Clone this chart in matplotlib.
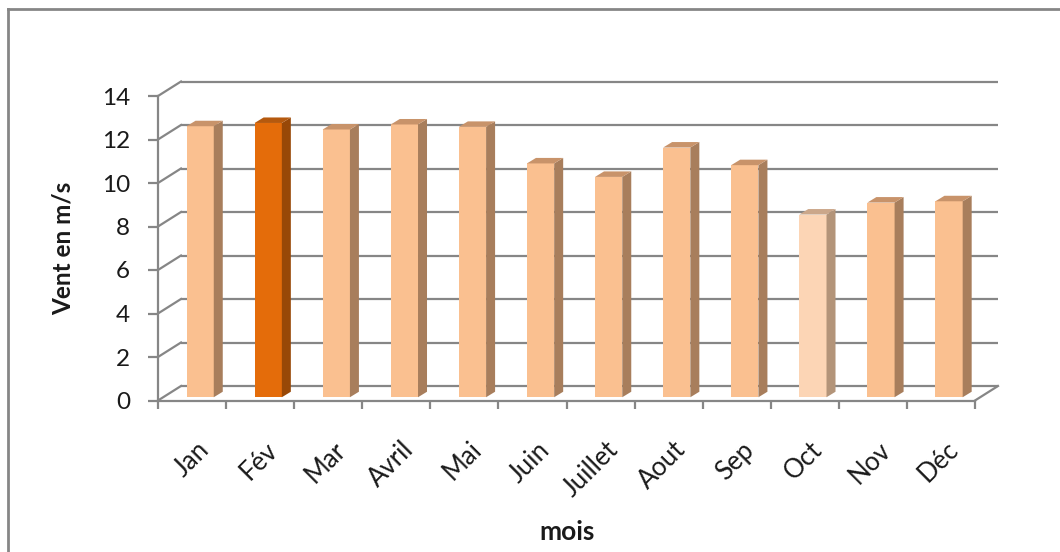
import matplotlib
matplotlib.use('Agg')
import matplotlib.pyplot as plt
from matplotlib.patches import Polygon
from matplotlib.lines import Line2D

plt.rcParams['font.family'] = ['Lato', 'DejaVu Sans']

# data
months = ['Jan', 'Fév', 'Mar', 'Avril', 'Mai', 'Juin', 'Juillet', 'Aout',
          'Sep', 'Oct', 'Nov', 'Déc']
wind = [12.46, 12.61, 12.31, 12.54, 12.43, 10.75, 10.13, 11.48, 10.67, 8.40, 8.95, 9.01]
y_ticks = [0, 2, 4, 6, 8, 10, 12, 14]

# colours (front, side, top)
light = ('#FAC090', '#A87E5C', '#C8936A')
dark = ('#E46C0A', '#984807', '#B5590E')
pale = ('#FCD5B5', '#B39479', '#CBA78A')
styles = [light] * 12
styles[1] = dark
styles[9] = pale

grid_col = '#868686'
txt_col = '#1a1a1a'

W, H = 1060, 552
fig = plt.figure(figsize=(W / 100, H / 100), dpi=100)
ax = fig.add_axes([158 / W, (H - 400.5) / H, (975 - 158) / W, (400.5 - 96) / H])
ax.set_xlim(0, 12)
ax.set_ylim(0, 14)

# pseudo 3d offsets (data units)
DX = 23 / 68.1
DY = 14.5 / 21.75
bdx = 9 / 68.1
bdy = 5.5 / 21.75
base = 0.15

# back wall grid + left wall diagonals
for v in y_ticks:
    ax.plot([DX, 12 + DX], [v + DY, v + DY], color=grid_col, lw=1.6, zorder=1,
            clip_on=False, solid_capstyle='butt')
    ax.plot([0, DX], [v, v + DY], color=grid_col, lw=1.6, zorder=1, clip_on=False)
ax.plot([12, 12 + DX], [0, DY], color=grid_col, lw=1.6, zorder=1, clip_on=False)

# bars
n = len(wind)
xs = [i + 0.419 for i in range(n)]
bw = 0.40
ax.bar(xs, wind, width=bw, bottom=base, align='edge',
       color=[s[0] for s in styles], zorder=3, clip_on=False)
for x0, v, s in zip(xs, wind, styles):
    x1 = x0 + bw
    top = base + v
    side = Polygon([(x1, base), (x1 + bdx, base + bdy), (x1 + bdx, top + bdy), (x1, top)],
                   closed=True, facecolor=s[1], edgecolor='none', zorder=3, clip_on=False)
    lid = Polygon([(x0, top), (x1, top), (x1 + bdx, top + bdy), (x0 + bdx, top + bdy)],
                  closed=True, facecolor=s[2], edgecolor='none', zorder=3, clip_on=False)
    ax.add_patch(side)
    ax.add_patch(lid)

# axes styling
for sp in ['top', 'right']:
    ax.spines[sp].set_visible(False)
for sp in ['left', 'bottom']:
    ax.spines[sp].set_color(grid_col)
    ax.spines[sp].set_linewidth(1.6)
ax.set_yticks(y_ticks)
ax.tick_params(axis='y', direction='out', length=7, width=1.6, color=grid_col,
               labelsize=17.5, pad=13, labelcolor=txt_col)
ax.set_xticks(range(13))
ax.set_xticklabels([])
ax.tick_params(axis='x', direction='out', length=6, width=1.6, color=grid_col)

for i, m in enumerate(months):
    ax.text(i + 0.5 + 0.07, -0.12, m, transform=ax.get_xaxis_transform(),
            rotation=45, rotation_mode='anchor', ha='right', va='top',
            fontsize=18.5, color=txt_col)

fig.text(63 / W, 1 - 248 / H, 'Vent en m/s', rotation=90, ha='center', va='center',
         fontsize=17.5, fontweight='bold', color=txt_col)
fig.text(567 / W, 1 - 532 / H, 'mois', ha='center', va='center',
         fontsize=19, fontweight='bold', color=txt_col)

# outer frame (cut off on the right and bottom)
fig.add_artist(Line2D([8 / W, 1.0], [1 - 9 / H, 1 - 9 / H], color=grid_col, lw=2,
                      transform=fig.transFigure))
fig.add_artist(Line2D([8 / W, 8 / W], [1 - 9 / H, 0.0], color=grid_col, lw=2,
                      transform=fig.transFigure))

fig.savefig('out.png', dpi=100)
plt.close(fig)
